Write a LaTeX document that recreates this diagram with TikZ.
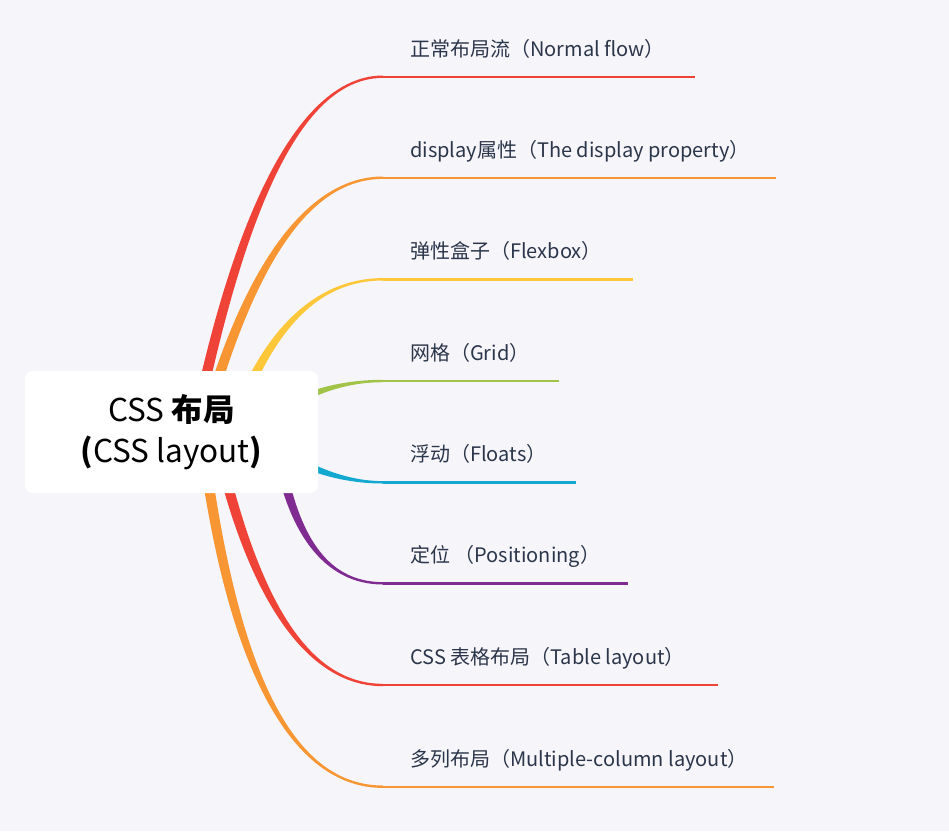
\documentclass[tikz,border=0pt]{standalone}
\usepackage{fontspec}
\setmainfont{Noto Sans CJK SC}
\usetikzlibrary{calc}
\definecolor{bgc}{RGB}{245,245,250}
\definecolor{cred}{RGB}{240,67,56}
\definecolor{corange}{RGB}{247,150,51}
\definecolor{cyellow}{RGB}{252,200,58}
\definecolor{cgreen}{RGB}{160,195,72}
\definecolor{ccyan}{RGB}{19,168,207}
\definecolor{cpurple}{RGB}{128,43,146}
\definecolor{txt}{RGB}{44,54,74}
\newcommand{\branchcurve}[6]{%
  \coordinate (#1o) at #2;
  \coordinate (#1q) at #3;
  \coordinate (#1e) at #4;
  \coordinate (#1c) at ($(#1o)!2/3!(#1q)$);
  \coordinate (#1d) at ($(#1e)!2/3!(#1q)$);
  \coordinate (#1a) at ($(#1o)!#5!90:(#1q)$);
  \coordinate (#1b) at ($(#1o)!#5!-90:(#1q)$);
  \fill[#6] (#1a) .. controls ($(#1c)+(#1a)-(#1o)$) and ($(#1d)+(0,-1.2)$) .. ($(#1e)+(0,-1.2)$)
     -- ($(#1e)+(0,1.2)$) .. controls ($(#1d)+(0,1.2)$) and ($(#1c)+(#1b)-(#1o)$) .. (#1b) -- cycle;
}
\tikzset{
  lbl/.style={anchor=base west, inner sep=0pt, text=txt, font=\fontsize{20pt}{24pt}\selectfont},
  uline/.style={line width=2.4pt},
  rootbox/.style={fill=white, rounded corners=8pt, minimum width=293pt, minimum height=122pt, inner sep=0pt},
  roottext/.style={anchor=base, inner sep=0pt, text=black, font=\fontsize{31.5pt}{38pt}\selectfont}
}
\begin{document}
\begin{tikzpicture}[x=1pt,y=-1pt]
\fill[bgc] (0,0) rectangle (949,831);
\useasboundingbox (0,0) rectangle (949,831);
% curves
\branchcurve{ba}{(194,432)}{(266.3,76.7)}{(383,76.7)}{5.25pt}{cred}
\branchcurve{bb}{(202,432)}{(272,177.7)}{(383,177.7)}{5.25pt}{corange}
\branchcurve{bc}{(231,432)}{(283,279.3)}{(383,279.3)}{5pt}{cyellow}
\branchcurve{bd}{(260,425)}{(314.5,381)}{(383,381)}{5pt}{cgreen}
\branchcurve{be}{(260,439)}{(323,482.3)}{(383,482.3)}{5pt}{ccyan}
\branchcurve{bf}{(275.3,432)}{(295.6,583.3)}{(383,583.3)}{5pt}{cpurple}
\branchcurve{bg}{(214.6,432)}{(270.3,685)}{(383,685)}{5.25pt}{cred}
\branchcurve{bh}{(201.4,432)}{(245.2,786.7)}{(383,786.7)}{5.25pt}{corange}
% underline ends
\coordinate (ua) at (695,76.7);
\coordinate (ub) at (776,177.7);
\coordinate (uc) at (633,279.3);
\coordinate (ud) at (559,381);
\coordinate (ue) at (576,482.3);
\coordinate (uf) at (628,583.3);
\coordinate (ug) at (718,685);
\coordinate (uh) at (774,786.7);
\draw[uline, cred] (bae) -- (ua);
\draw[uline, corange] (bbe) -- (ub);
\draw[uline, cyellow] (bce) -- (uc);
\draw[uline, cgreen] (bde) -- (ud);
\draw[uline, ccyan] (bee) -- (ue);
\draw[uline, cpurple] (bfe) -- (uf);
\draw[uline, cred] (bge) -- (ug);
\draw[uline, corange] (bhe) -- (uh);
% root
\node[rootbox] (root) at (171.5,432) {};
\node[roottext] (rt1) at (171.5,421) {CSS \textbf{布局}};
\node[roottext] (rt2) at (171.5,462.5) {{\bfseries(}CSS layout{\bfseries)}};
% labels
\node[lbl] (la) at (410,56.2) {正常布局流（Normal flow）};
\node[lbl] (lb) at (410,157.2) {display属性（The display property）};
\node[lbl] (lc) at (410,258.8) {弹性盒子（Flexbox）};
\node[lbl] (ld) at (410,360.5) {网格（Grid）};
\node[lbl] (le) at (410,461.8) {浮动（Floats）};
\node[lbl] (lf) at (410,562.8) {定位 （Positioning）};
\node[lbl] (lg) at (410,664.5) {CSS 表格布局（Table layout）};
\node[lbl] (lh) at (410,766.2) {多列布局（Multiple-column layout）};
\end{tikzpicture}
\end{document}
